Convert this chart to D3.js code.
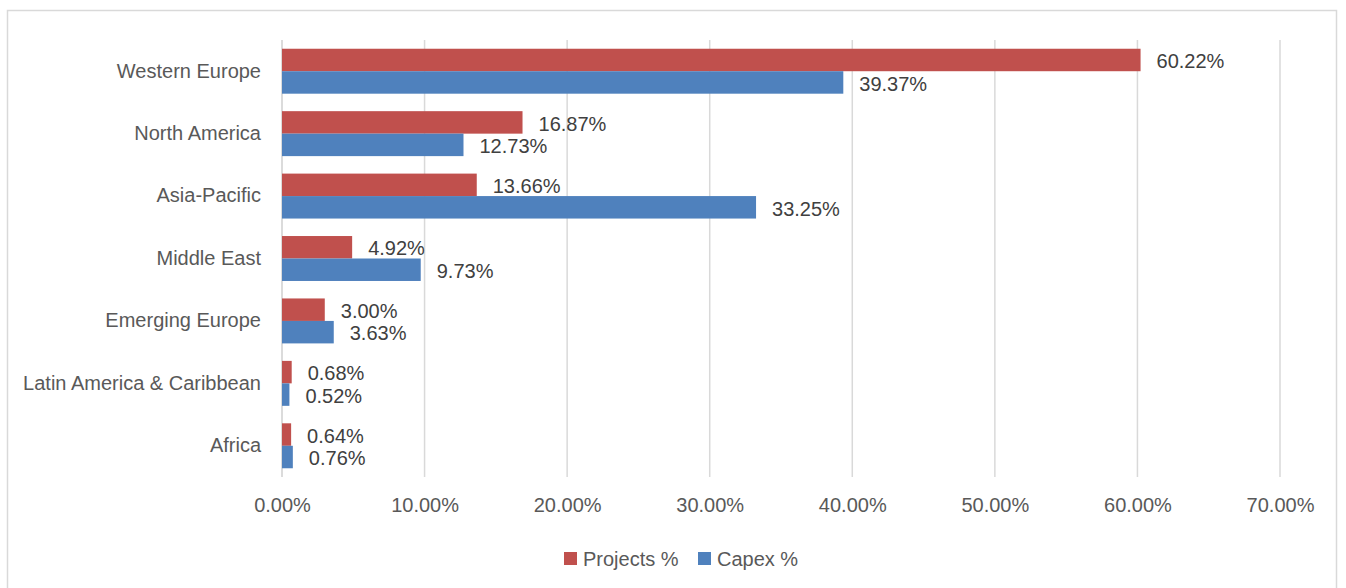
<!DOCTYPE html>
<html>
<head>
<meta charset="utf-8">
<script src="https://cdn.jsdelivr.net/npm/d3@7"></script>
<style>
  html, body { margin: 0; padding: 0; background: #ffffff; }
  svg { display: block; font-family: "Liberation Sans", Arial, sans-serif; }
</style>
</head>
<body>
<svg id="chart" width="1346" height="588"></svg>
<script>
// Regional share of projects and capital expenditure
const regions = ["Western Europe", "North America", "Asia-Pacific", "Middle East",
                 "Emerging Europe", "Latin America & Caribbean", "Africa"];
const projectsPct = [60.22, 16.87, 13.66, 4.92, 3.00, 0.68, 0.64];
const capexPct    = [39.37, 12.73, 33.25, 9.73, 3.63, 0.52, 0.76];
const seriesNames = ["Projects %", "Capex %"];
const seriesColors = ["#C0504D", "#4F81BD"];
const xTicks = [0, 10, 20, 30, 40, 50, 60, 70];

const FONT = "20px";
const svg = d3.select("#chart");

// outer frame
svg.append("rect")
  .attr("x", 7.5).attr("y", 10.5)
  .attr("width", 1329).attr("height", 600)
  .attr("fill", "none").attr("stroke", "#d9d9d9").attr("stroke-width", 1.5);

const plot = { left: 282, right: 1280, top: 40, bottom: 477 };

const x = d3.scaleLinear().domain([0, 70]).range([plot.left, plot.right]);
const y = d3.scaleBand().domain(regions).range([plot.top, plot.bottom]).paddingInner(0.28).paddingOuter(0.14);
const ySub = d3.scaleBand().domain(seriesNames).range([0, y.bandwidth()]);

// vertical gridlines
svg.append("g").selectAll("line")
  .data(xTicks)
  .join("line")
  .attr("x1", d => x(d)).attr("x2", d => x(d))
  .attr("y1", plot.top).attr("y2", plot.bottom)
  .attr("stroke", "#d9d9d9").attr("stroke-width", 1.5);

// x axis tick labels
const xAxis = d3.axisBottom(x).tickValues(xTicks).tickSize(0).tickPadding(0)
  .tickFormat(d => d.toFixed(2) + "%");
const gx = svg.append("g").attr("transform", `translate(0,${plot.bottom + 21})`).call(xAxis);
gx.select(".domain").remove();
gx.selectAll("text")
  .attr("fill", "#595959").attr("font-size", FONT)
  .attr("font-family", "Liberation Sans, Arial, sans-serif");

// y axis category labels
const yAxis = d3.axisLeft(y).tickSize(0).tickPadding(21);
const gy = svg.append("g").attr("transform", `translate(${plot.left},0)`).call(yAxis);
gy.select(".domain").remove();
gy.selectAll("text")
  .attr("fill", "#595959").attr("font-size", FONT)
  .attr("font-family", "Liberation Sans, Arial, sans-serif");

// axis line at zero
svg.append("line")
  .attr("x1", x(0)).attr("x2", x(0))
  .attr("y1", plot.top).attr("y2", plot.bottom)
  .attr("stroke", "#d9d9d9").attr("stroke-width", 1.5);

const rows = regions.map((r, i) => ({
  region: r,
  values: [
    { name: seriesNames[0], value: projectsPct[i], color: seriesColors[0] },
    { name: seriesNames[1], value: capexPct[i], color: seriesColors[1] }
  ]
}));

const groups = svg.append("g").selectAll("g")
  .data(rows)
  .join("g")
  .attr("transform", d => `translate(0,${y(d.region)})`);

groups.selectAll("rect")
  .data(d => d.values)
  .join("rect")
  .attr("x", x(0))
  .attr("y", d => ySub(d.name))
  .attr("width", d => x(d.value) - x(0))
  .attr("height", ySub.bandwidth())
  .attr("fill", d => d.color);

groups.selectAll("text")
  .data(d => d.values)
  .join("text")
  .attr("x", d => x(d.value) + 16)
  .attr("y", d => ySub(d.name) + ySub.bandwidth() / 2 + 1)
  .attr("dy", "0.36em")
  .attr("fill", "#404040")
  .attr("font-size", FONT)
  .text(d => d.value.toFixed(2) + "%");

// legend
const legend = svg.append("g");
const legendItems = [
  { name: seriesNames[0], color: seriesColors[0], x: 564 },
  { name: seriesNames[1], color: seriesColors[1], x: 698 }
];
const li = legend.selectAll("g").data(legendItems).join("g")
  .attr("transform", d => `translate(${d.x},552)`);
li.append("rect").attr("width", 13).attr("height", 13).attr("fill", d => d.color);
li.append("text").attr("x", 19).attr("y", 6.5).attr("dy", "0.36em")
  .attr("fill", "#595959").attr("font-size", FONT)
  .text(d => d.name);
</script>
</body>
</html>
